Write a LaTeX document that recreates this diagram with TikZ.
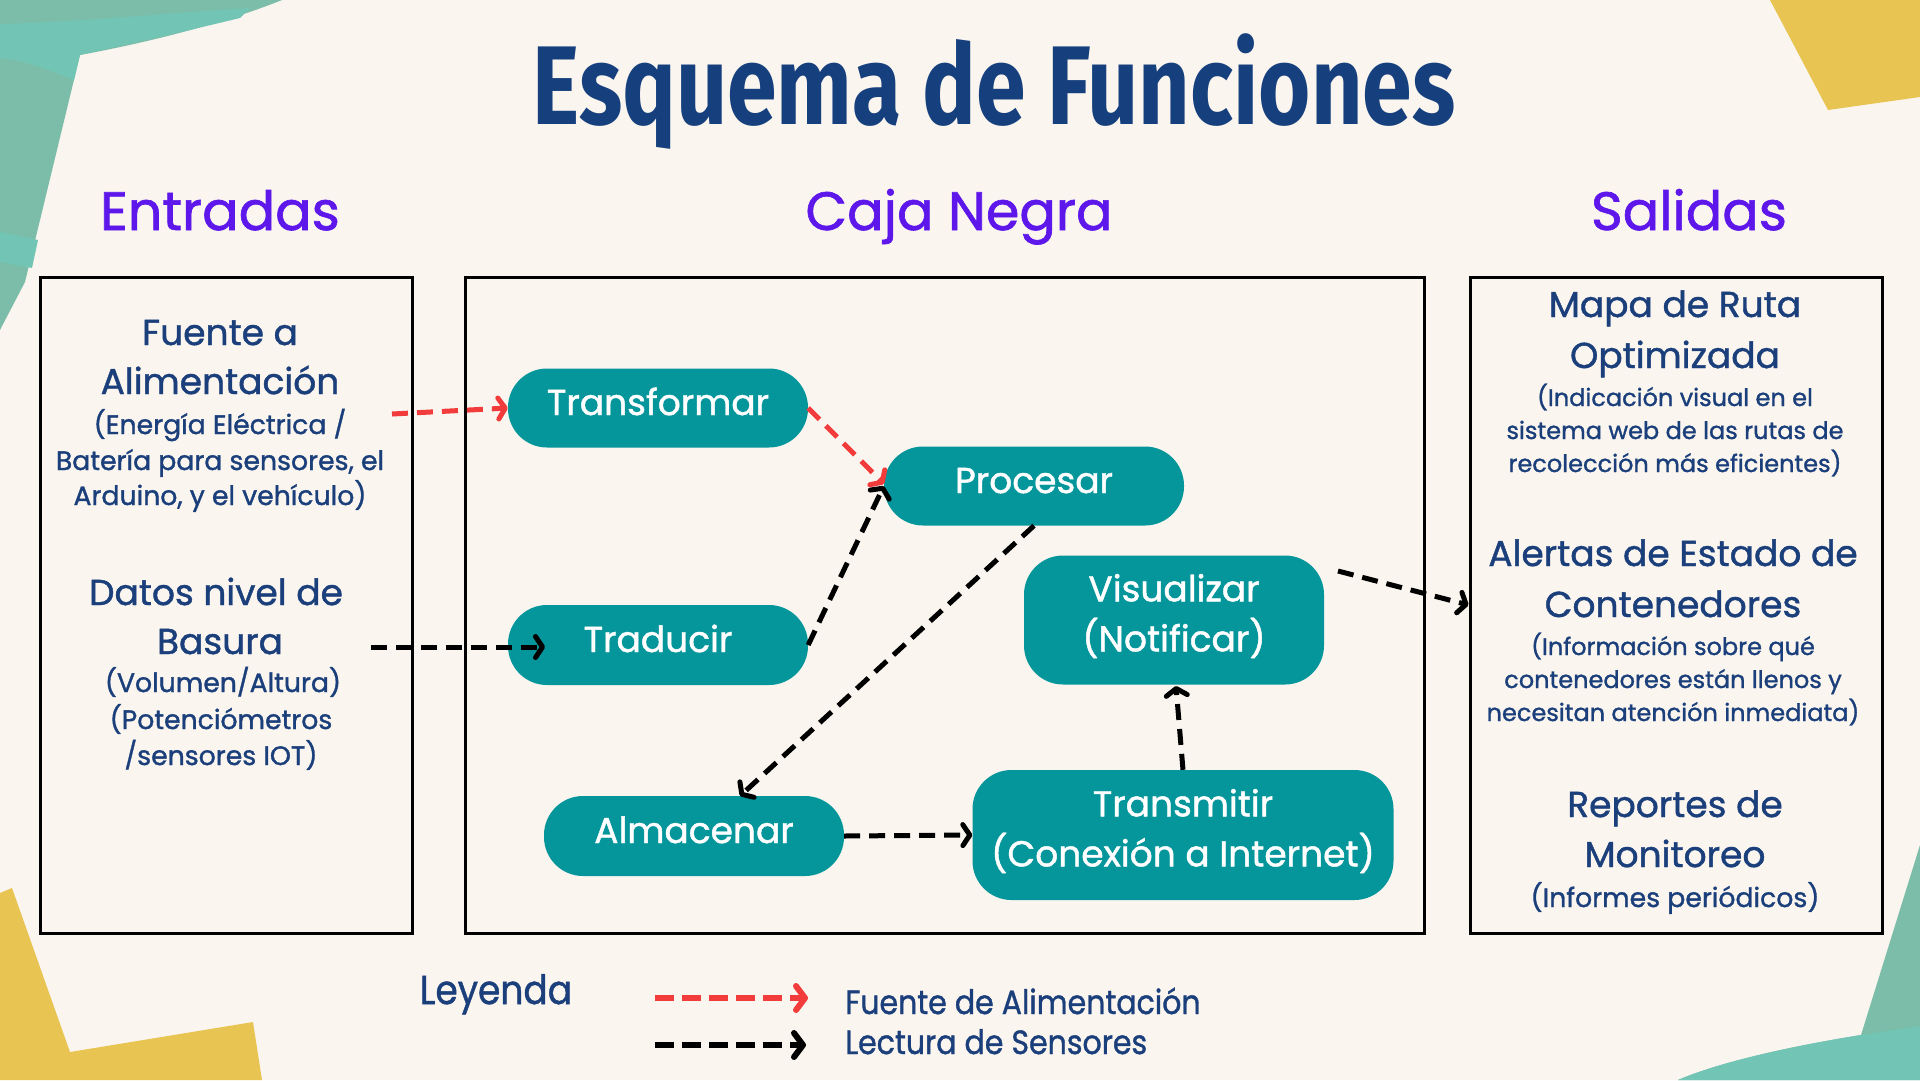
\documentclass[tikz,border=0pt]{standalone}
\usepackage{fontspec}
\usepackage{graphicx}
\usetikzlibrary{arrows.meta,calc}
\setmainfont{Poppins}[FakeBold=1.2]
\newfontfamily\titlefont{Fira Sans}[FakeStretch=0.8]
\definecolor{bgc}{HTML}{FBF5EF}
\definecolor{pillc}{HTML}{05969C}
\definecolor{navy}{HTML}{1A3F7B}
\definecolor{titlec}{HTML}{16407D}
\definecolor{purp}{HTML}{5E17EB}
\definecolor{tealdeco}{HTML}{7BBDA9}
\definecolor{teallight}{HTML}{72C5B5}
\definecolor{yel}{HTML}{E8C552}
\definecolor{redc}{HTML}{F23B3B}
\tikzset{
  pill/.style={fill=pillc, rounded corners=39pt, text=white, font=\fontsize{36}{50}\selectfont, inner sep=0pt, align=center},
  pilltext/.style={text=white, font=\fontsize{36}{50}\selectfont, inner sep=0pt, align=center},
  frame/.style={draw=black, line width=3pt, inner sep=0pt},
  bigtxt/.style={font=\fontsize{36}{42}\selectfont, text=navy, anchor=base, inner sep=0pt},
  smalltxt/.style={font=\fontsize{24}{30}\selectfont, text=navy, anchor=base, inner sep=0pt},
  lsmalltxt/.style={font=\fontsize{26.7}{32}\selectfont, text=navy, anchor=base, inner sep=0pt},
  head/.style={font=\fontsize{54}{60}\selectfont, text=purp, anchor=base, inner sep=0pt},
  flow/.style={line width=5pt, dash pattern=on 16pt off 9pt, -{Straight Barb[length=7pt,width=21pt,round]}, line cap=butt},
  redflow/.style={flow, draw=redc},
  blackflow/.style={flow, draw=black},
  legflow/.style={line width=6pt, dash pattern=on 19pt off 8pt, -{Straight Barb[length=9pt,width=24pt,round]}, line cap=butt},
  legtxt/.style={font=\fontsize{30}{36}\selectfont, text=navy, anchor=base west, inner sep=0pt},
}
\begin{document}
\begin{tikzpicture}[x=1pt,y=-1pt]
\fill[bgc] (0,0) rectangle (1920,1080);
\useasboundingbox (0,0) rectangle (1920,1080);
% decorations
\fill[tealdeco] (0,0) -- (282,0) .. controls (220,25) and (140,44) .. (80,55) -- (25,282) -- (0,330) -- cycle;
\fill[teallight] (0,24) .. controls (80,22) and (180,12) .. (250,8) -- (240,18) .. controls (170,35) and (100,50) .. (80,55) -- (74,80) .. controls (40,66) and (20,60) .. (0,58) -- cycle;
\fill[teallight] (0,232) -- (38,240) -- (32,268) -- (0,262) -- cycle;
\fill[yel] (1770,0) -- (1828,110) -- (1920,97) -- (1920,0) -- cycle;
\fill[yel] (0,893) -- (12,888) -- (70,1052) -- (253,1022) -- (262,1080) -- (0,1080) -- cycle;
\fill[tealdeco] (1920,845) -- (1861,1035) .. controls (1780,1048) and (1715,1064) .. (1678,1080) -- (1920,1080) -- cycle;
\fill[teallight] (1861,1035) .. controls (1780,1048) and (1715,1064) .. (1678,1080) -- (1920,1080) -- (1920,1026) -- cycle;

% title and headings
\node[font=\titlefont\bfseries\fontsize{112}{120}\selectfont, text=titlec, anchor=base, inner sep=0pt] (title) at (994,124) {Esquema de Funciones};
\node[head] (hin) at (220,230) {Entradas};
\node[head] (hbb) at (959,230) {Caja Negra};
\node[head] (hout) at (1689,230) {Salidas};

% frames
\node[frame, minimum width=372pt, minimum height=656pt] (L) at (226,605) {};
\node[frame, minimum width=959pt, minimum height=656pt] (M) at (944.5,605) {};
\node[frame, minimum width=412pt, minimum height=656pt] (R) at (1676,605) {};

% left texts
\node[bigtxt] (la1) at (220,345) {Fuente a};
\node[bigtxt] (la2) at (220,394) {Alimentación};
\node[lsmalltxt] (la3) at (220,434) {(Energía Eléctrica /};
\node[lsmalltxt] (la4) at (220,470) {Batería para sensores, el};
\node[lsmalltxt] (la5) at (220,505) {Arduino, y el vehículo)};
\node[bigtxt] (lb1) at (216,605) {Datos nivel de};
\node[bigtxt] (lb2) at (220,654) {Basura};
\node[lsmalltxt] (lb3) at (223,692) {(Volumen/Altura)};
\node[lsmalltxt] (lb4) at (221,729) {(Potenciómetros};
\node[lsmalltxt] (lb5) at (221,765) {/sensores IOT)};

% right texts
\node[bigtxt] (ra1) at (1675,317) {Mapa de Ruta};
\node[bigtxt] (ra2) at (1675,368) {Optimizada};
\node[smalltxt] (ra3) at (1675,406) {(Indicación visual en el};
\node[smalltxt] (ra4) at (1675,439) {sistema web de las rutas de};
\node[smalltxt] (ra5) at (1675,472) {recolección más eficientes)};
\node[bigtxt] (rb1) at (1673,566) {Alertas de Estado de};
\node[bigtxt] (rb2) at (1673,617) {Contenedores};
\node[smalltxt] (rb3) at (1673,655) {(Información sobre qué};
\node[smalltxt] (rb4) at (1673,688) {contenedores están llenos y};
\node[smalltxt] (rb5) at (1673,721) {necesitan atención inmediata)};
\node[bigtxt] (rc1) at (1675,817) {Reportes de};
\node[bigtxt] (rc2) at (1675,867) {Monitoreo};
\node[lsmalltxt] (rc3) at (1675,907) {(Informes periódicos)};

% pills
\node[pill, minimum width=300pt, minimum height=79pt, text height=26pt, text depth=12pt] (Tf) at (658,408) {Transformar};
\node[pill, minimum width=300pt, minimum height=79pt, text height=26pt, text depth=12pt] (Pr) at (1034,486) {Procesar};
\node[pill, minimum width=300pt, minimum height=80pt, text height=26pt, text depth=12pt] (Td) at (658,645) {Traducir};
\node[pill, minimum width=300pt, minimum height=129pt] (Vi) at (1174,620) {};
\node[pilltext] (ViT) at ($(Vi.center)+(0,-4)$) {Visualizar\\(Notificar)};
\node[pill, minimum width=300pt, minimum height=80pt, text height=26pt, text depth=12pt] (Al) at (694,836) {Almacenar};
\node[pill, minimum width=421pt, minimum height=130pt] (Tm) at (1183,835) {};
\node[pilltext] (TmT) at ($(Tm.center)+(0,-4)$) {Transmitir\\(Conexión a Internet)};

% connectors
\coordinate (srcA) at (392,414);
\coordinate (srcB) at (371,647);
\coordinate (srcC) at (1338,571);
\coordinate (tdIn) at (545,647);
\coordinate (alIn) at (740,796);
\coordinate (viIn) at (1176,686);
\coordinate (prIn) at (884,484);
\draw[redflow] (srcA) -- (Tf.west);
\draw[redflow] (Tf.east) -- (prIn);
\draw[blackflow] (srcB) -- (tdIn);
\draw[blackflow] (Td.east) -- (Pr.west);
\draw[blackflow] (Pr.south) -- (alIn);
\draw[blackflow] (Al.east) -- (Tm.west);
\draw[blackflow] (Tm.north) -- (viIn);
\draw[blackflow] (srcC) -- (R.west);

% legend
\node[font=\fontsize{36}{40}\selectfont, text=navy, anchor=base, inner sep=0pt] (ley) at (496,1004) {\scalebox{1}[1.12]{Leyenda}};
\coordinate (lr1) at (655,998);
\coordinate (lr2) at (808,998);
\coordinate (lb1) at (655,1045);
\coordinate (lb2) at (806,1045);
\draw[legflow, draw=redc] (lr1) -- (lr2);
\draw[legflow, draw=black] (lb1) -- (lb2);
\node[legtxt] (lt1) at (845,1014) {\scalebox{1}[1.12]{Fuente de Alimentación}};
\node[legtxt] (lt2) at (845,1054) {\scalebox{1}[1.12]{Lectura de Sensores}};
\end{tikzpicture}
\end{document}
